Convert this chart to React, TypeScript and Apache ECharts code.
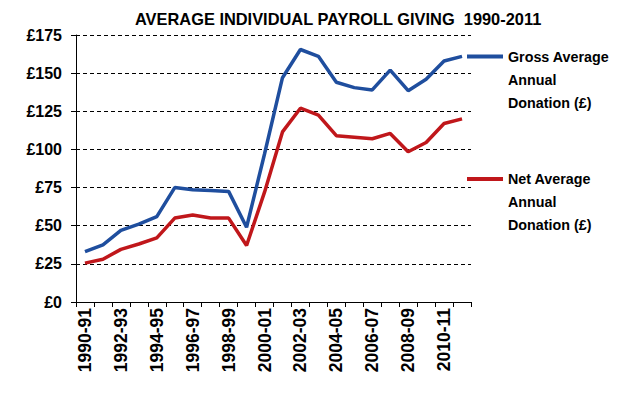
import React, { useEffect, useRef } from "react";
import * as echarts from "echarts";

const categories = [
  "1990-91", "1991-92", "1992-93", "1993-94", "1994-95", "1995-96", "1996-97", "1997-98",
  "1998-99", "1999-00", "2000-01", "2001-02", "2002-03", "2003-04", "2004-05", "2005-06",
  "2006-07", "2007-08", "2008-09", "2009-10", "2010-11", "2011-12",
];
const grossValues = [33, 37.5, 47, 51, 56, 75, 73.5, 73, 72.5, 49, 97, 147, 165.5, 161, 144, 140.5, 139, 152, 138.5, 146, 158, 161];
const netValues = [25.5, 28, 34.5, 38, 42, 55, 57, 55, 55, 37, 72, 111.5, 127, 122.5, 109, 108, 107, 110.5, 98.5, 104.5, 117, 120];
const grossName = "Gross Average Annual Donation (£)";
const netName = "Net Average Annual Donation (£)";
const legendFirstLine: Record<string, string> = {
  [grossName]: "Gross Average",
  [netName]: "Net Average",
};
const legendMoreLines = ["Annual", "Donation (£)"];
const titleText = "AVERAGE INDIVIDUAL PAYROLL GIVING  1990-2011";

const FONT = "'Liberation Sans', Arial, sans-serif";

export default function App() {
  const ref = useRef<HTMLDivElement>(null);
  useEffect(() => {
    if (!ref.current) return;
    const chart = echarts.init(ref.current, null, { renderer: "svg" });
    const legendText = {
      fontFamily: FONT,
      fontSize: 14.3,
      fontWeight: "bold" as const,
      color: "#000",
      lineHeight: 23,
      overflow: "none",
      width: 130,
    };
    const legendBase = {
      orient: "vertical",
      left: 467,
      padding: 0,
      itemWidth: 36,
      itemHeight: 4,
      icon: "rect",
      itemGap: 5,
      formatter: (n: string) => legendFirstLine[n],
      textStyle: legendText,
    };
    const extraText = (y: number, text: string) => ({
      type: "text",
      x: 508,
      y,
      silent: true,
      style: {
        text,
        fontFamily: FONT,
        fontSize: 14.3,
        fontWeight: "bold",
        fill: "#000",
        verticalAlign: "middle",
        align: "left",
      },
    });
    chart.setOption({
      animation: false,
      backgroundColor: "#fff",
      title: {
        text: titleText,
        left: 135,
        top: 11,
        padding: 0,
        textStyle: { fontFamily: FONT, fontSize: 16.4, fontWeight: "bold", color: "#000" },
      },
      legend: [
        { ...legendBase, data: [grossName], top: 45 },
        { ...legendBase, data: [netName], top: 167.5 },
      ],
      graphic: [
        extraText(79.5, legendMoreLines[0]),
        extraText(102.5, legendMoreLines[1]),
        extraText(202, legendMoreLines[0]),
        extraText(225, legendMoreLines[1]),
      ],
      grid: { left: 76, top: 35, right: 148, bottom: 92, containLabel: false },
      xAxis: {
        type: "category",
        data: categories,
        boundaryGap: true,
        axisLine: { show: true, lineStyle: { color: "#000", width: 1 } },
        axisTick: { show: true, interval: 0, length: 5, lineStyle: { color: "#000" } },
        axisLabel: {
          interval: 1,
          rotate: 90,
          margin: 6,
          fontFamily: FONT,
          fontSize: 17.5,
          fontWeight: "bold",
          color: "#000",
        },
        splitLine: { show: false },
      },
      yAxis: {
        type: "value",
        min: 0,
        max: 175,
        interval: 25,
        axisLine: { show: true, lineStyle: { color: "#000", width: 1 } },
        axisTick: { show: true, length: 5, lineStyle: { color: "#000" } },
        axisLabel: {
          formatter: "£{value}",
          margin: 14,
          fontFamily: FONT,
          fontSize: 16,
          fontWeight: "bold",
          color: "#000",
        },
        splitLine: { show: true, lineStyle: { color: "#000", type: [4, 3], width: 1 } },
      },
      series: [
        {
          name: grossName,
          type: "line",
          data: grossValues,
          symbol: "none",
          lineStyle: { color: "#1f4e9e", width: 3.5 },
          itemStyle: { color: "#1f4e9e" },
        },
        {
          name: netName,
          type: "line",
          data: netValues,
          symbol: "none",
          lineStyle: { color: "#c0171b", width: 3.5 },
          itemStyle: { color: "#c0171b" },
        },
      ],
    });
    return () => chart.dispose();
  }, []);
  return (
    <div
      ref={ref}
      style={{ position: "fixed", left: 0, top: 0, width: 619, height: 394 }}
    />
  );
}
